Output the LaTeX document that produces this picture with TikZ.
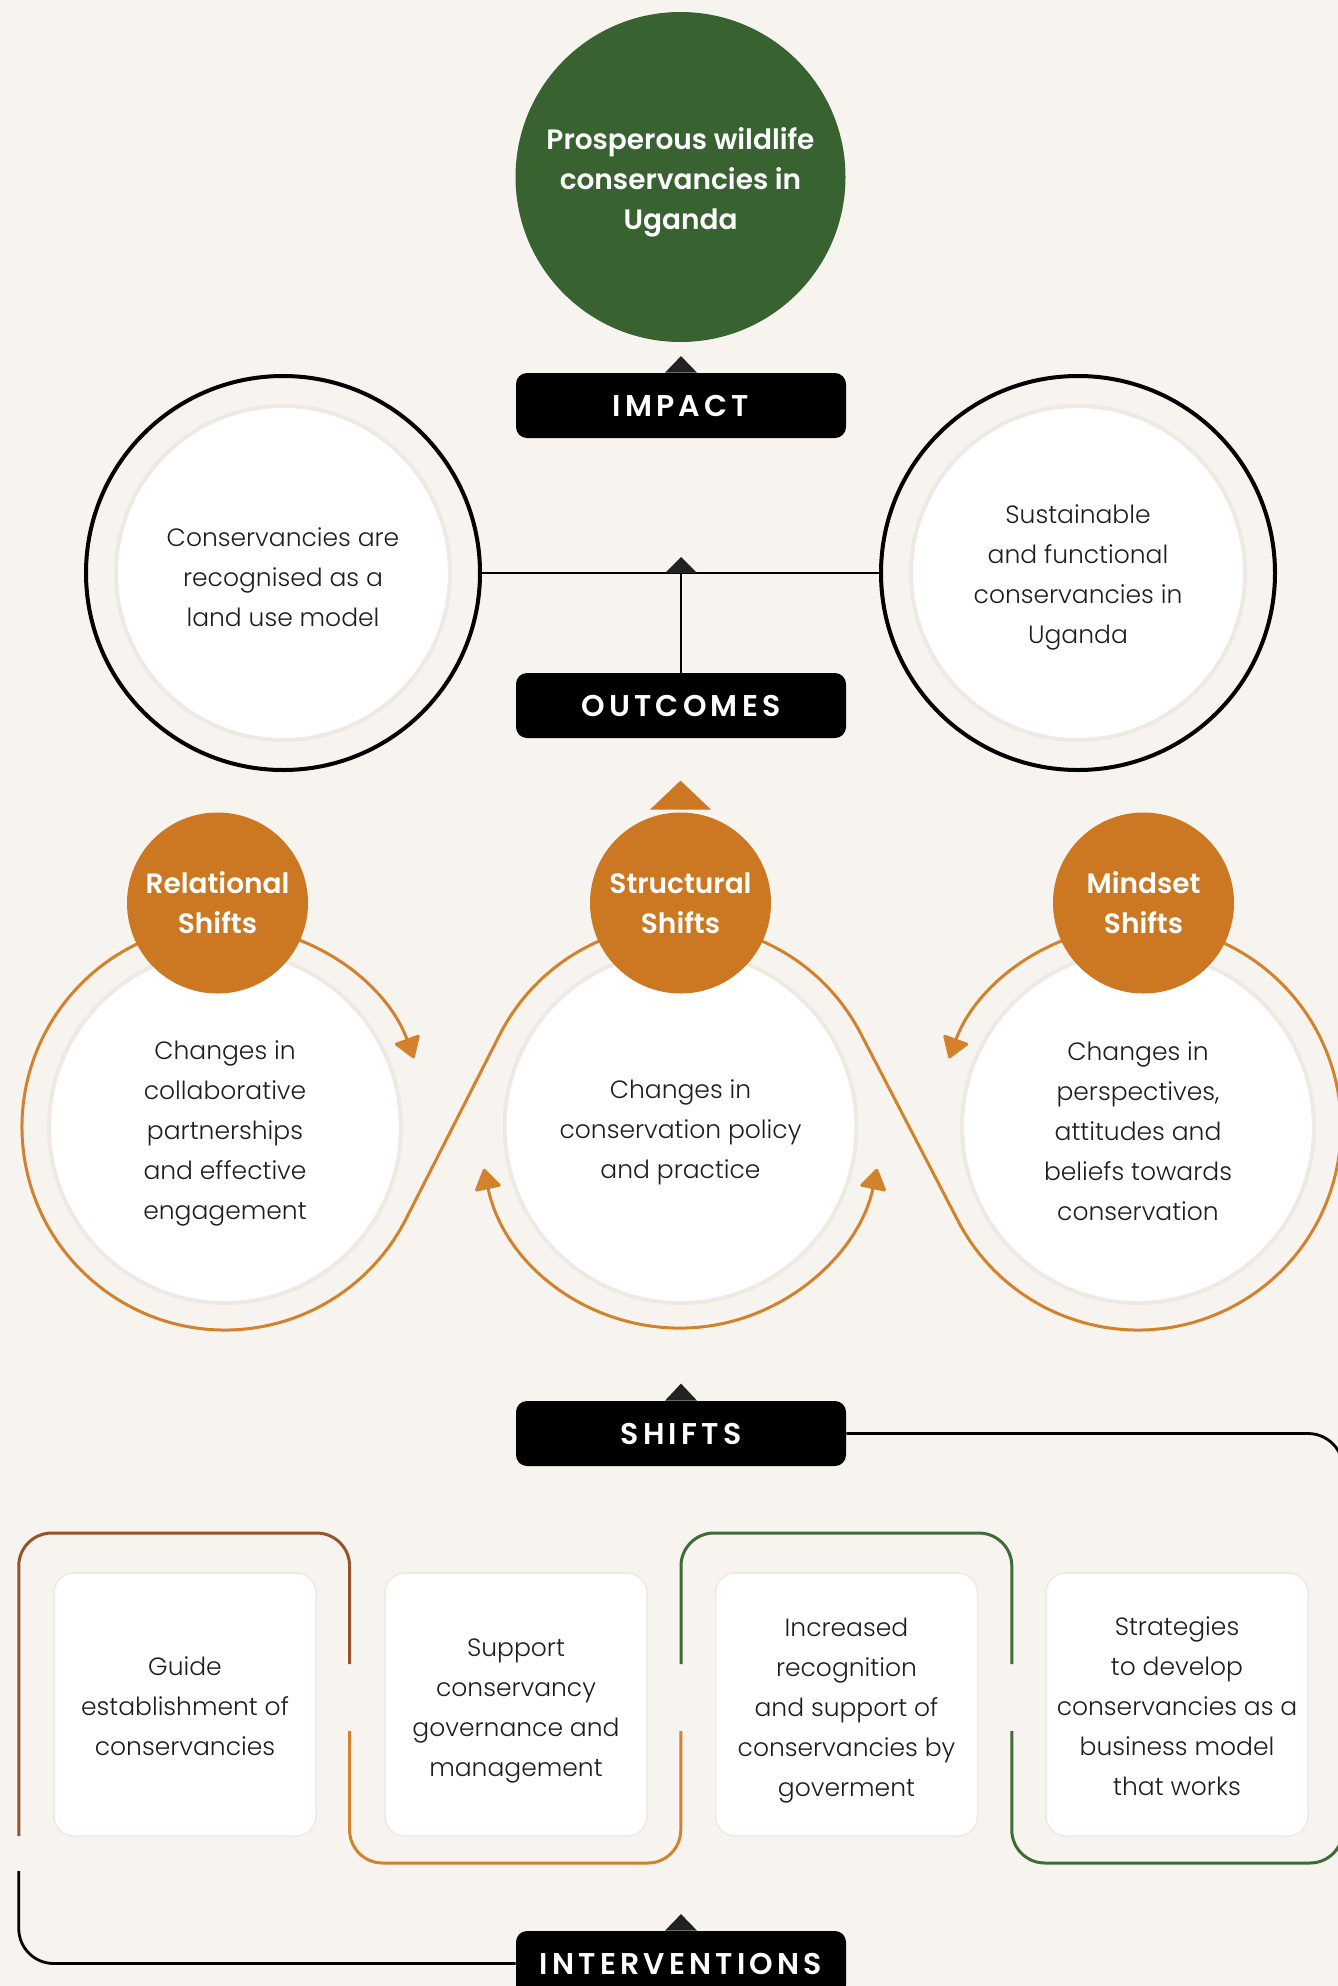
\documentclass[tikz,border=0pt]{standalone}
\usepackage{fontspec}
\setmainfont{Poppins}[UprightFont={* Light}, BoldFont={* SemiBold}]
\usetikzlibrary{arrows.meta,calc}
\definecolor{bg}{HTML}{F7F4EF}
\definecolor{impgreen}{HTML}{386331}
\definecolor{shorange}{HTML}{CC7722}
\definecolor{lnorange}{HTML}{D3812A}
\definecolor{lnbrown}{HTML}{98522B}
\definecolor{lngreen}{HTML}{3F6B37}
\definecolor{halo}{HTML}{EFE9E3}
\definecolor{dark}{HTML}{222222}
\definecolor{txt}{HTML}{1E1E1E}
\tikzset{otip/.tip={Triangle[length=11pt,width=14pt,round]}}
\begin{document}
\begin{tikzpicture}[x=0.5pt,y=0.5pt,
  body/.style={align=center, text=txt, font=\fontsize{12.5}{20}\selectfont},
  head/.style={align=center, text=white, font=\fontsize{14}{20}\selectfont\bfseries},
  tagbox/.style={fill=black, rounded corners=5.5pt, minimum width=165pt, minimum height=32.5pt, inner sep=0pt, text=white,
     font=\fontsize{15}{16}\selectfont\bfseries\addfontfeature{LetterSpace=14}},
  whitecirc/.style={circle, fill=white, draw=halo, line width=2pt, minimum size=#1, inner sep=0pt},
  ivbox/.style={fill=white, draw=halo, line width=0.75pt, rounded corners=10pt, minimum width=131pt, minimum height=131.5pt, inner sep=0pt},
  blk/.style={draw=black, line width=1.4pt},
  oline/.style={draw=lnorange, line width=1.5pt}
]
\fill[bg] (0,0) rectangle (1338,-1986);
\useasboundingbox (0,0) rectangle (1338,-1986);
\clip (0,0) rectangle (1338,-1986);

% ---------- impact ----------
\node[circle, fill=impgreen, minimum size=165pt, inner sep=0pt] (impactc) at (680.5,-177) {};
\node[head] (impacttxt) at ([yshift=-2.5pt]impactc.center) {Prosperous wildlife\\conservancies in\\Uganda};
\node[tagbox] (impact) at (681,-405.5) {IMPACT};
\fill[dark] ($(impact.north)+(-16,0)$) -- ($(impact.north)+(16,0)$) -- ($(impact.north)+(0,16.5)$) -- cycle;

% ---------- outcomes ----------
\node[circle, draw=black, line width=2pt, minimum size=197pt, inner sep=0pt] (outL) at (283,-573) {};
\node[whitecirc=167pt] (outLin) at (outL.center) {};
\node[body] (outLt) at ([yshift=-2pt]outLin.center) {Conservancies are\\recognised as a\\land use model};
\node[circle, draw=black, line width=2pt, minimum size=197pt, inner sep=0pt] (outR) at (1078,-573) {};
\node[whitecirc=167pt] (outRin) at (outR.center) {};
\node[body] (outRt) at ([yshift=-2pt]outRin.center) {Sustainable\\and functional\\conservancies in\\Uganda};
\node[tagbox] (outcomes) at (681,-705.5) {OUTCOMES};
\draw[blk] (outL.east) -- (outR.west);
\draw[blk] (outcomes.north) -- (outcomes.north |- outL.center);
\coordinate (jn) at (outcomes.north |- outL.center);
\fill[dark] ($(jn)+(-16,0)$) -- ($(jn)+(16,0)$) -- ($(jn)+(0,16)$) -- cycle;

% ---------- shifts ----------
\node[whitecirc=176pt] (wL) at (225,-1127) {};
\node[whitecirc=176pt] (wM) at (680.5,-1127) {};
\node[whitecirc=176pt] (wR) at (1138,-1127) {};
\node[body] (wLt) at ([yshift=-3pt]wL.center) {Changes in\\collaborative\\partnerships\\and effective\\engagement};
\node[body] (wMt) at ([yshift=-2.5pt]wM.center) {Changes in\\conservation policy\\and practice};
\node[body] (wRt) at ([yshift=-2pt]wR.center) {Changes in\\perspectives,\\attitudes and\\beliefs towards\\conservation};

\draw[oline] ($(wL.center)+(100:203)$) arc[start angle=100,end angle=333,radius=203]
  -- ($(wM.center)+(153:203)$) arc[start angle=153,end angle=27,radius=203]
  -- ($(wR.center)+(207:203)$) arc[start angle=207,end angle=440,radius=203];
\draw[oline,-{otip}] ($(wL.center)+(80:201)$) arc[start angle=80,end angle=20,radius=201];
\draw[oline,-{otip}] ($(wR.center)+(100:201)$) arc[start angle=100,end angle=160,radius=201];
\draw[oline,{otip}-{otip}] ($(wM.center)+(192:201)$) arc[start angle=192,end angle=348,radius=201];

\node[circle, fill=shorange, minimum size=90.5pt, inner sep=0pt, head] (oL) at (217.5,-903) {Relational\\Shifts};
\node[circle, fill=shorange, minimum size=90.5pt, inner sep=0pt, head] (oM) at (680.5,-903) {Structural\\Shifts};
\node[circle, fill=shorange, minimum size=90.5pt, inner sep=0pt, head] (oR) at (1143.5,-903) {Mindset\\Shifts};
\fill[shorange] ($(oM.north)+(-30.5,2.5)$) -- ($(oM.north)+(30.5,2.5)$) -- ($(oM.north)+(0,31.5)$) -- cycle;

\node[tagbox] (shifts) at (681,-1433.5) {SHIFTS};
\fill[dark] ($(shifts.north)+(-16,0)$) -- ($(shifts.north)+(16,0)$) -- ($(shifts.north)+(0,17)$) -- cycle;
\draw[blk, rounded corners=17.5pt] (shifts.east) -- (1343,-1433.5) -- (1343,-1650);

% ---------- interventions ----------
\node[ivbox] (box1) at (185,-1704.5) {};
\node[ivbox] (box2) at (516,-1704.5) {};
\node[ivbox] (box3) at (846.5,-1704.5) {};
\node[ivbox] (box4) at (1177,-1704.5) {};
\node[body] (box1t) at ([yshift=-1pt]box1.center) {Guide\\establishment of\\conservancies};
\node[body] (box2t) at ([yshift=-3.2pt]box2.center) {Support\\conservancy\\governance and\\management};
\node[body] (box3t) at ([yshift=-2.8pt]box3.center) {Increased\\recognition\\and support of\\conservancies by\\goverment};
\node[body] (box4t) at ([yshift=-1pt]box4.center) {Strategies\\to develop\\conservancies as a\\business model\\that works};

\draw[draw=lnbrown, line width=1.5pt, rounded corners=16.5pt] (18.75,-1836) -- (18.75,-1533) -- (349.6,-1533) -- (349.6,-1664);
\draw[draw=lnorange, line width=1.5pt, rounded corners=16.5pt] (349.6,-1731) -- (349.6,-1863) -- (680.8,-1863) -- (680.8,-1731);
\draw[draw=lngreen, line width=1.5pt, rounded corners=16.5pt] (681,-1664) -- (681,-1533) -- (1011.8,-1533) -- (1011.8,-1664);
\draw[draw=lngreen, line width=1.5pt, rounded corners=16.5pt] (1011.8,-1731) -- (1011.8,-1863) -- (1343,-1863) -- (1343,-1600);

\node[tagbox] (interventions) at (681,-1963.5) {INTERVENTIONS};
\fill[dark] ($(interventions.north)+(-16,0)$) -- ($(interventions.north)+(16,0)$) -- ($(interventions.north)+(0,16.5)$) -- cycle;
\draw[blk, rounded corners=17.5pt] (interventions.west) -- (18.75,-1963.5) -- (18.75,-1871);
\end{tikzpicture}
\end{document}
